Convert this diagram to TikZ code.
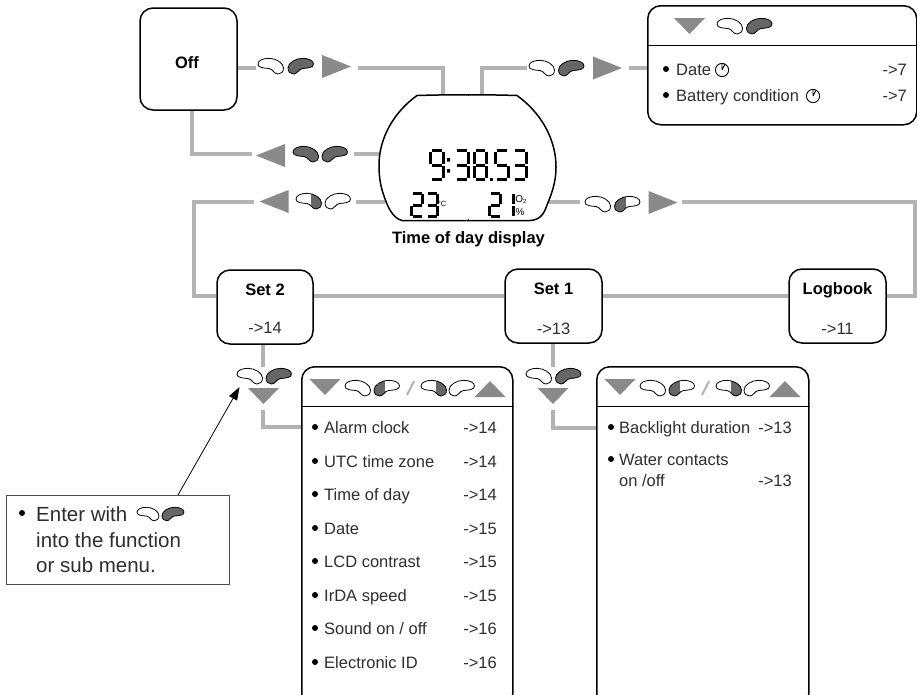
\documentclass[tikz,border=0pt]{standalone}
\usepackage{fontspec}
\setmainfont{Liberation Sans}
\usetikzlibrary{arrows.meta}
\definecolor{conngray}{HTML}{B3B3B3}
\definecolor{arrgray}{HTML}{8A8A8A}
\definecolor{beandark}{HTML}{666666}
\definecolor{txtdark}{HTML}{2E2E2E}
\tikzset{
  x=1pt,y=-1pt,
  conn/.style={draw=conngray,line width=4pt,line join=miter},
  roundbox/.style={draw=black,fill=white,line width=1.5pt,rounded corners=13pt,inner sep=0pt},
  menubox/.style={roundbox,anchor=north west},
  txt/.style={inner sep=0pt,text=txtdark,font=\fontsize{16.5}{20}\selectfont},
  boldtxt/.style={inner sep=0pt,text=black,font=\fontsize{16.5}{20}\selectfont\bfseries},
  itemb/.style={txt,anchor=base west},
  itemr/.style={txt,anchor=base east},
  calltxt/.style={inner sep=0pt,anchor=base west,text=txtdark,font=\fontsize{20.5}{24}\selectfont},
  bulletdot/.style={circle,fill=black,inner sep=0pt,minimum size=6pt},
  arr/.style={fill=arrgray,draw=none},
  seg/.style={draw=black,line width=3pt,line cap=butt},
  sseg/.style={draw=black,line width=3pt,line cap=butt},
}
\newcommand\beanshape{(0,6) .. controls (0,2.5) and (5,0.3) .. (11,0.3) .. controls (18,0.3) and (25.5,5) .. (25.5,10) .. controls (25.5,14) and (23,16) .. (20,16) .. controls (16,16) and (15,11) .. (11,10.5) .. controls (6,10) and (0,10) .. (0,6) -- cycle}
% kind: 0 white, 1 half, 2 dark
\newcommand\beanbody[1]{%
  \ifcase#1\relax
    \fill[white] \beanshape;
  \or
    \fill[white] \beanshape;
    \begin{scope}\clip \beanshape; \fill[beandark] (14.5,-1) rectangle (27,17);\end{scope}
  \or
    \fill[beandark] \beanshape;
  \fi
  \draw[black,line width=0.8pt] \beanshape;}
\newcommand\beanL[4][1]{\begin{scope}[shift={(#2,#3)},scale=#1]\beanbody{#4}\end{scope}}
\newcommand\beanR[4][1]{\begin{scope}[shift={(#2,#3)},scale=#1,xscale=-1,shift={(-25.5,0)}]\beanbody{#4}\end{scope}}
\newcommand\triR[2]{\fill[arr] (#1-14.5,#2-11.5) -- (#1+14.5,#2) -- (#1-14.5,#2+11.5) -- cycle;}
\newcommand\triL[2]{\fill[arr] (#1+14.5,#2-11.5) -- (#1-14.5,#2) -- (#1+14.5,#2+11.5) -- cycle;}
\newcommand\triD[2]{\fill[arr] (#1-15.5,#2-8) -- (#1+15.5,#2-8) -- (#1,#2+8) -- cycle;}
\newcommand\triU[2]{\fill[arr] (#1-15.5,#2+8) -- (#1+15.5,#2+8) -- (#1,#2-8) -- cycle;}
\newcommand\segdigit[6][seg]{\begin{scope}[shift={(#2,#3)},x=#4pt,y=-#5pt]
  \foreach \s in {#6}{\draw[#1] \csname digseg\s\endcsname;}\end{scope}}
\newcommand\digsega{(.16,.04) -- (.84,.04)}
\newcommand\digsegb{(.93,.08) -- (.93,.46)}
\newcommand\digsegc{(.93,.54) -- (.93,.92)}
\newcommand\digsegd{(.16,.96) -- (.84,.96)}
\newcommand\digsege{(.07,.54) -- (.07,.92)}
\newcommand\digsegf{(.07,.08) -- (.07,.46)}
\newcommand\digsegg{(.16,.5) -- (.84,.5)}
\newcommand\clockicon[2]{\draw[black,line width=0.9pt] (#1,#2) circle (6.6);
  \draw[black,line width=0.9pt] (#1,#2) -- (#1+3,#2-6) (#1,#2) -- (#1,#2-6.6);}
\newcommand\headerbeans[1]{% x of left of first arrow
  \triD{#1+16}{387}
  \beanL{#1+36}{380}{0}\beanR{#1+65}{380}{1}
  \draw[conngray,line width=2pt] (#1+105,381) -- (#1+98,395);
  \beanL{#1+112}{380}{1}\beanR{#1+140}{380}{0}
  \triU{#1+181}{389}}
\begin{document}
\begin{tikzpicture}
\useasboundingbox (0,0) rectangle (917,694);
% boxes
\node[roundbox,minimum width=97pt,minimum height=102pt] (off) at (188.5,59) {};
\node[roundbox,minimum width=96pt,minimum height=74pt] (set2) at (265,307) {};
\node[roundbox,minimum width=97pt,minimum height=74pt] (set1) at (553.5,306) {};
\node[roundbox,minimum width=97pt,minimum height=74pt] (logbook) at (837.5,306) {};
% anchors of the watch
\coordinate (wtl) at (443,95);
\coordinate (wtr) at (482,95);
\coordinate (wl1) at (381,153.5);
\coordinate (wl2) at (385,201.5);
\coordinate (wr) at (549,202);
% connector free ends
\coordinate (a1) at (256,67.5);  \coordinate (a2) at (358,67.5);
\coordinate (b1) at (527,68);    \coordinate (b2) at (629,68); \coordinate (b3) at (662,68);
\coordinate (c1) at (252,153.5); \coordinate (c2) at (354,153.5);
\coordinate (d1) at (254,201.5); \coordinate (d2) at (356,201.5);
\coordinate (e1) at (580,202);   \coordinate (e2) at (682,202);
\coordinate (f1) at (263,367);   \coordinate (f2) at (263,410); \coordinate (f3) at (310,427);
\coordinate (g1) at (553,367);   \coordinate (g2) at (553,410); \coordinate (g3) at (605,428);
% connectors
\draw[conn] (off.east |- a1) -- (a1);
\draw[conn] (a2) -| (wtl);
\draw[conn] (wtr) |- (b1);
\draw[conn] (b2) -- (b3);
\draw[conn] (off.south -| 192,0) |- (c1);
\draw[conn] (c2) -- (wl1);
\draw[conn] (wl2) -- (d2);
\draw[conn] (d1) -| (194,296) -- (set2.west |- 0,296);
\draw[conn] (wr) -- (e1);
\draw[conn] (e2) -| (915,296) -- (logbook.east |- 0,296);
\draw[conn] (set2.east |- 0,296) -- (set1.west |- 0,296);
\draw[conn] (set1.east |- 0,296) -- (logbook.west |- 0,296);
\draw[conn] (set2.south -| f1) -- (f1);
\draw[conn] (f2) |- (f3);
\draw[conn] (set1.south -| g1) -- (g1);
\draw[conn] (g2) |- (g3);
% box labels
\node[boldtxt,anchor=base] (offt) at (187,68) {Off};
\node[boldtxt,anchor=base] (set2t) at (265,295) {Set 2};
\node[txt,anchor=base] (set2p) at (265,333) {->14};
\node[boldtxt,anchor=base] (set1t) at (553.5,294) {Set 1};
\node[txt,anchor=base] (set1p) at (553.5,334) {->13};
\node[boldtxt,anchor=base] (logt) at (837.5,294) {Logbook};
\node[txt,anchor=base] (logp) at (837.5,334) {->11};
% arrows and buttons
\beanL{258}{58}{0}\beanR{288}{58}{2}\triR{336.5}{66.5}
\beanL{529}{60}{0}\beanR{558.5}{60}{2}\triR{607.5}{68}
\triL{270.5}{155.5}\beanL{293}{146}{2}\beanR{322}{146}{2}
\triL{274}{201.5}\beanL{296}{193}{1}\beanR{325}{193}{0}
\beanL{585}{196}{0}\beanR{614.5}{196}{1}\triR{663}{202.5}
\beanL{237}{368}{0}\beanR{266}{368}{2}\triD{263.5}{396}
\beanL{526}{368}{0}\beanR{555.5}{368}{2}\triD{553}{396}
% watch
\draw[fill=white,line width=1.5pt,draw=black]
  (417,95.5) .. controls (450,94.5) and (485,94.5) .. (517,95.5)
  .. controls (540,112) and (556,138) .. (556,167)
  .. controls (556,182) and (552,193) .. (547,205)
  .. controls (544,214) and (540,220) .. (530,220.5)
  -- (402,220.5)
  .. controls (392,218) and (387,205) .. (384,196)
  .. controls (380,185) and (379,175) .. (379,165)
  .. controls (379,138) and (394,112) .. (417,95.5) -- cycle;
\draw[black,line width=0.7pt] (468,93.5) -- (468,96) (468,218.5) -- (468,221);
\segdigit{430}{149}{14}{32}{a,b,c,d,f,g}
\fill (447,158) rectangle (450,161.5) (447,169) rectangle (450,172.5);
\segdigit{455}{149}{14}{32}{a,b,c,d,g}
\segdigit{473.5}{149}{14}{32}{a,b,c,d,e,f,g}
\fill (490,178) rectangle (493,181);
\segdigit{495}{149}{14}{32}{a,c,d,f,g}
\segdigit{513}{149}{14}{32}{a,b,c,d,g}
\segdigit[sseg]{411}{192}{12.5}{26}{a,b,d,e,g}
\segdigit[sseg]{426}{192}{12.5}{26}{a,b,c,d,g}
\segdigit[sseg]{489}{192}{12.5}{26}{a,b,d,e,g}
\segdigit[sseg]{501.5}{192}{12.5}{26}{b,c}
\node[inner sep=0pt,font=\fontsize{7.5}{8}\selectfont] (degc) at (442,203.5) {°C};
\node[inner sep=0pt,font=\fontsize{10}{10}\selectfont] (otwo) at (521,200) {O\raisebox{-1pt}{\fontsize{6}{6}\selectfont 2}};
\node[inner sep=0pt,font=\fontsize{10}{10}\selectfont] (pct) at (520,212) {\%};
\node[boldtxt,anchor=base] (todt) at (468.5,243) {Time of day display};
% top right menu
\node[menubox,minimum width=269pt,minimum height=119pt] (menutop) at (647,5) {};
\draw[black,line width=1pt] (menutop.west |- 0,45) -- (menutop.east |- 0,45);
\triD{689.5}{26}
\beanL{717}{18}{0}\beanR{746.5}{18}{2}
\node[bulletdot] (btop1) at (666,69) {};
\node[bulletdot] (btop2) at (666,95) {};
\node[itemb] (date) at (676,75) {Date};
\clockicon{722}{70}
\node[itemr] (date7) at (907,75) {->7};
\node[itemb] (batt) at (676,101) {Battery condition};
\clockicon{813}{96}
\node[itemr] (batt7) at (907,101) {->7};
% Set 2 menu
\node[menubox,minimum width=211pt,minimum height=340pt] (menu2) at (301,366) {};
\draw[black,line width=1pt] (menu2.west |- 0,406) -- (menu2.east |- 0,406);
\headerbeans{309}
\foreach \nm/\ln/\yy/\pg in {m2a/Alarm clock/433/14,m2b/UTC time zone/467/14,m2c/Time of day/500/14,m2d/Date/534/15,m2e/LCD contrast/567/15,m2f/IrDA speed/601/15,m2g/{Sound on / off}/634/16,m2h/Electronic ID/668/16}{
  \node[bulletdot] (\nm b) at (315,\yy-6) {};
  \node[itemb] (\nm t) at (324,\yy) {\ln};
  \node[itemr] (\nm p) at (497,\yy) {->\pg};
}
% Set 1 menu
\node[menubox,minimum width=212pt,minimum height=340pt] (menu1) at (596,366) {};
\draw[black,line width=1pt] (menu1.west |- 0,406) -- (menu1.east |- 0,406);
\headerbeans{604}
\node[bulletdot] (m1ab) at (611,427) {};
\node[itemb] (m1at) at (619,433) {Backlight duration};
\node[itemr] (m1ap) at (792,433) {->13};
\node[bulletdot] (m1bb) at (611,459) {};
\node[itemb] (m1bt) at (619,465) {Water contacts};
\node[itemb] (m1bu) at (619,486) {on /off};
\node[itemr] (m1bp) at (792,486) {->13};
% callout
\node[draw=black!70,line width=1pt,fill=white,anchor=north west,minimum width=223pt,minimum height=89pt,inner sep=0pt] (note) at (6,495) {};
\coordinate (tip) at (239.5,387);
\draw[black,line width=0.8pt,-{Triangle[length=13pt,width=9pt]}] (178,495) -- (tip);
\node[bulletdot] (noteb) at (22,513) {};
\node[calltxt] (n1) at (36,521) {Enter with};
\beanL[0.86]{137}{507}{0}\beanR[0.86]{162}{507}{2}
\node[calltxt] (n2) at (36,547) {into the function};
\node[calltxt] (n3) at (36,572) {or sub menu.};
\end{tikzpicture}
\end{document}
